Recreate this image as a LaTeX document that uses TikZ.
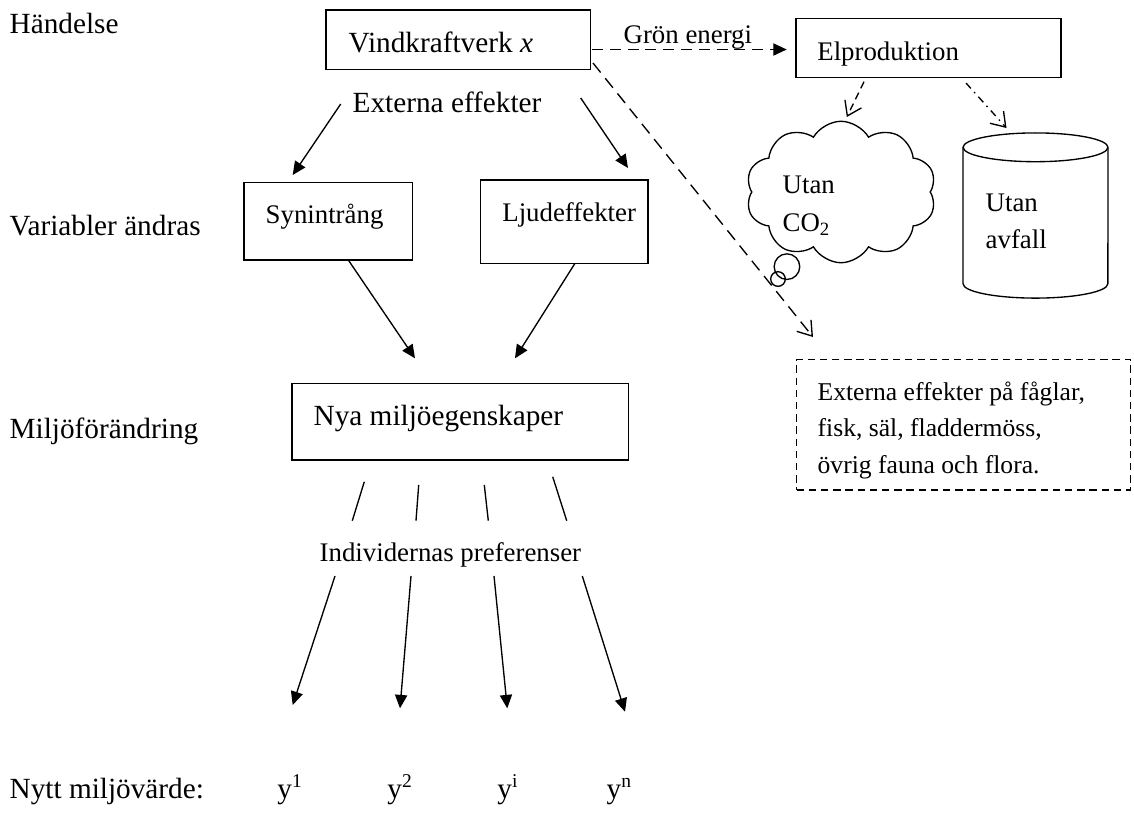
\documentclass[tikz,border=0pt]{standalone}
\usepackage{fontspec}
\setmainfont{Liberation Serif}
\usetikzlibrary{arrows.meta,shapes.symbols,shapes.callouts,fit}
\begin{document}
\begin{tikzpicture}[x=0.41pt,y=-0.41pt, line width=0.55pt,
  box/.style={draw, rectangle, inner sep=0pt},
  txt/.style={anchor=base west, inner sep=0pt, font=\fontsize{12}{14}\selectfont},
  stxt/.style={anchor=base west, inner sep=0pt, font=\fontsize{11}{13}\selectfont},
  xtxt/.style={anchor=base west, inner sep=0pt, font=\fontsize{10.5}{12}\selectfont},
  arr/.style={-{Triangle[length=5.5pt,width=5pt]}},
  oarr/.style={-{Straight Barb[length=5.5pt,width=7.5pt]}},
]
\useasboundingbox (0,0) rectangle (1134,814);

% boxes
\node[box, fit={(326,10) (590.7,69.3)}] (vind) {};
\node[box, fit={(796,18.3) (1061,77.7)}] (elpro) {};
\node[box, fit={(244,182.7) (412.7,260)}] (syn) {};
\node[box, fit={(480.7,180) (648,263.3)}] (ljud) {};
\node[box, fit={(292,383.3) (628.7,460)}] (nya) {};
\node[box, dash pattern=on 3pt off 2pt, fit={(796.7,359.3) (1130.7,490)}] (extbox) {};

% cloud
\node[cloud callout, draw, cloud puffs=10, cloud puff arc=120, cloud ignores aspect,
      minimum width=78pt, minimum height=58pt, inner sep=0pt,
      callout absolute pointer={(778,279)}, callout pointer start size=20pt and 15pt,
      callout pointer end size=8pt and 6pt, callout pointer segments=2] (cloud) at (841,192) {};

% cylinder
\node[inner sep=0pt, fit={(963,133) (1108,298)}] (cyl) {};
\draw (1035.5,147.3) ellipse [x radius=29.7pt, y radius=5.9pt];
\draw (963,147.3) -- (963,283.7) arc[start angle=180, end angle=360, x radius=29.7pt, y radius=5.9pt] -- (1108,147.3);

% left labels
\node[txt] (lab1) at (9,33.3) {Händelse};
\node[txt] (lab2) at (9,235) {Variabler ändras};
\node[txt] (lab3) at (9,438) {Miljöförändring};
\node[txt] (lab4) at (9,798) {Nytt miljövärde:};

% texts
\node[txt] (vindt) at (348,52) {Vindkraftverk \textit{x}};
\node[txt] (extt) at (352,112) {Externa effekter};
\node[stxt] (gront) at (623,43.3) {Grön energi};
\node[stxt] (elprot) at (816.7,60.7) {Elproduktion};
\node[stxt] (synt) at (265,223) {Synintrång};
\node[stxt] (ljudt) at (501.7,221.7) {Ljudeffekter};
\node[txt] (nyat) at (313,425) {Nya miljöegenskaper};
\node[stxt] (indt) at (319,561.7) {Individernas preferenser};
\node[stxt] (cl1) at (782,193) {Utan};
\node[stxt] (cl2) at (782,231.7) {CO\textsubscript{2}};
\node[stxt] (cy1) at (985,211) {Utan};
\node[stxt] (cy2) at (985,248) {avfall};
\node[xtxt] (ex1) at (817,400) {Externa effekter på fåglar,};
\node[xtxt] (ex2) at (817,436.7) {fisk, säl, fladdermöss,};
\node[xtxt] (ex3) at (817,473.3) {övrig fauna och flora.};
\node[txt] (y1) at (276.7,798) {y\textsuperscript{1}};
\node[txt] (y2) at (386.7,798) {y\textsuperscript{2}};
\node[txt] (yi) at (496.7,798) {y\textsuperscript{i}};
\node[txt] (yn) at (606,798) {y\textsuperscript{n}};

% connector end points
\coordinate (e1s) at (340.7,104); \coordinate (e1e) at (292.7,175);
\coordinate (e2s) at (580.7,98);  \coordinate (e2e) at (628,168);
\coordinate (s1s) at (348.3,260); \coordinate (s1e) at (415,358.3);
\coordinate (l1s) at (575,263.3); \coordinate (l1e) at (515,358.3);
\coordinate (gs) at (592,49.5);   \coordinate (ge) at (786.7,49.5);
\coordinate (ds) at (593,63);     \coordinate (de) at (813,337);
\coordinate (cs) at (864,81.7);   \coordinate (ce) at (846.8,117);
\coordinate (ys) at (966,83);     \coordinate (ye) at (1006.5,128);

\draw[arr] (e1s) -- (e1e);
\draw[arr] (e2s) -- (e2e);
\draw[arr] (s1s) -- (s1e);
\draw[arr] (l1s) -- (l1e);
\draw[arr, dash pattern=on 4.5pt off 2.8pt] (gs) -- (ge);
\draw[oarr, dash pattern=on 5pt off 3pt] (ds) -- (de);
\draw[oarr, dash pattern=on 3pt off 2pt] (cs) -- (ce);
\draw[oarr, dash pattern=on 3pt off 2pt on 0.6pt off 2pt] (ys) -- (ye);

% preference lines
\coordinate (p1a) at (364.3,481.7); \coordinate (p1b) at (352.3,520.7);
\coordinate (p2a) at (418.7,485);   \coordinate (p2b) at (416,520.7);
\coordinate (p3a) at (484.3,485);   \coordinate (p3b) at (488.3,520.7);
\coordinate (p4a) at (552.7,476.7); \coordinate (p4b) at (566.7,520.7);
\draw (p1a) -- (p1b);
\draw (p2a) -- (p2b);
\draw (p3a) -- (p3b);
\draw (p4a) -- (p4b);

\coordinate (q1a) at (335,576);   \coordinate (q1b) at (292.7,705);
\coordinate (q2a) at (411,576);   \coordinate (q2b) at (400,708.3);
\coordinate (q3a) at (494,576);   \coordinate (q3b) at (507.3,708.3);
\coordinate (q4a) at (582.3,576); \coordinate (q4b) at (625,711.7);
\draw[arr] (q1a) -- (q1b);
\draw[arr] (q2a) -- (q2b);
\draw[arr] (q3a) -- (q3b);
\draw[arr] (q4a) -- (q4b);
\end{tikzpicture}
\end{document}
